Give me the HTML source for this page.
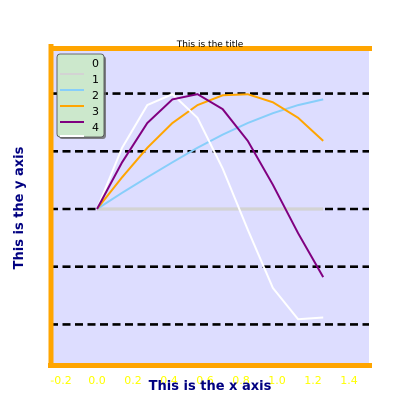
<!DOCTYPE html>
<html><head><meta charset="utf-8"><style>
body{margin:0;background:#fff;}
svg{display:block;font-family:"DejaVu Sans","Liberation Sans",sans-serif;}
</style></head><body>
<svg id="chart" width="409" height="411" viewBox="0 0 409 411">
<rect x="50" y="48" width="319" height="317" fill="#ddddff"/>
<g id="grid"></g>
<g id="series"></g>
<line x1="51" y1="48.5" x2="372" y2="48.5" stroke="#ffa500" stroke-width="5"/>
<line x1="51" y1="44" x2="51" y2="368" stroke="#ffa500" stroke-width="5"/>
<line x1="48" y1="365.5" x2="372" y2="365.5" stroke="#ffa500" stroke-width="5"/>
<g id="xticks"></g>
<text x="210" y="47" font-size="9" text-anchor="middle" fill="#000">This is the title</text>
<text x="210" y="390" font-size="13" font-weight="bold" text-anchor="middle" fill="#000080">This is the x axis</text>
<text transform="translate(23,208) rotate(-90)" font-size="13" font-weight="bold" text-anchor="middle" fill="#000080">This is the y axis</text>
<g>
<rect x="59" y="56" width="47" height="83" rx="3" fill="#666" opacity="0.8"/>
<rect x="57" y="54" width="47" height="83" rx="3" fill="#cce8cc" stroke="#444" stroke-width="0.8"/>
<g id="legend-items"></g>
</g>
</svg>
<script>
const xValues=[0,0.1396,0.2793,0.4189,0.5585,0.6981,0.8378,0.9774,1.1170,1.2566];
const series0=[0,1.06,1.80,1.99,1.58,0.70,-0.36,-1.37,-1.91,-1.88];
const series1=[0,0,0,0,0,0,0,0,0,0];
const series2=[0,0.28,0.55,0.81,1.06,1.29,1.49,1.66,1.80,1.90];
const series3=[0,0.55,1.06,1.49,1.80,1.97,1.99,1.85,1.58,1.18];
const series4=[0,0.81,1.49,1.90,1.99,1.73,1.18,0.42,-0.42,-1.18];
const seriesLabels=["0","1","2","3","4"];
const seriesColors=["#ffffff","#d3d3d3","#87cefa","#ffa500","#800080"];
const xTicks=[-0.2,0.0,0.2,0.4,0.6,0.8,1.0,1.2,1.4];
const xTickLabels=["-0.2","0.0","0.2","0.4","0.6","0.8","1.0","1.2","1.4"];
const yGrid=[-2,-1,0,1,2];
const NS="http://www.w3.org/2000/svg";
const xs=v=>97+v*180;
const ys=v=>209-v*57.7;
function mk(t,a,p){const e=document.createElementNS(NS,t);for(const k in a)e.setAttribute(k,a[k]);p.appendChild(e);return e;}
const grid=document.getElementById('grid');
yGrid.forEach(v=>{
 const l=mk('line',{x1:50,x2:369,y1:ys(v),y2:ys(v),stroke:'#000','stroke-width':2.6,'stroke-dasharray':'8,4.5'},grid);
 
 
});
const xt=document.getElementById('xticks');
xTicks.forEach((v,i)=>{
 const t=mk('text',{x:xs(v),y:384,'font-size':11,'text-anchor':'middle',fill:'#ffff00'},xt);
 t.textContent=xTickLabels[i];
 
 
});
const all=[series0,series1,series2,series3,series4];
const sg=document.getElementById('series');
[1,2,3,0,4].forEach(i=>{
 const d=all[i].map((v,k)=>(k?'L':'M')+xs(xValues[k]).toFixed(1)+','+ys(v).toFixed(1)).join('');
 const p=mk('path',{d:d,fill:'none',stroke:seriesColors[i],'stroke-width':i==1?3.2:2},sg);
 
 
});
const lg=document.getElementById('legend-items');
seriesLabels.forEach((s,i)=>{
 const t=mk('text',{x:99,y:67+i*16,'font-size':11,'text-anchor':'end',fill:'#000'},lg);
 t.textContent=s;
 
 
 const l=mk('line',{x1:60,x2:84,y1:i==0?136:58+i*16,y2:i==0?136:58+i*16,stroke:seriesColors[i],'stroke-width':2},lg);
 
 
});
</script>
</body></html>
